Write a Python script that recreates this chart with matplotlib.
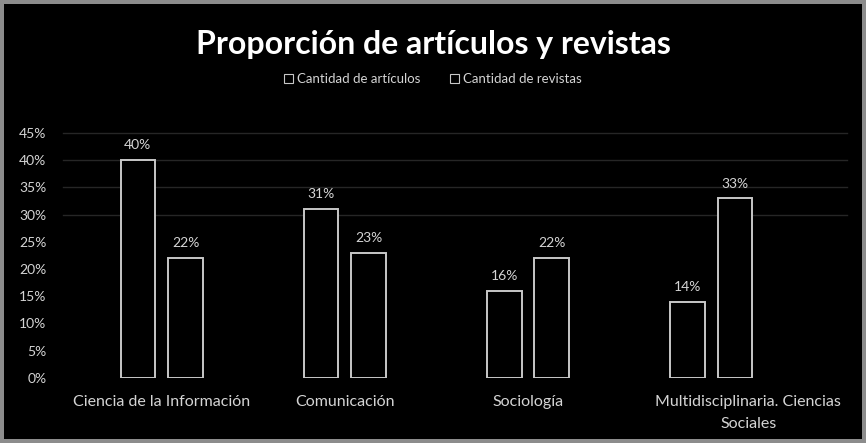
import matplotlib.pyplot as plt
import matplotlib.transforms as mtransforms
import numpy as np
from matplotlib.patches import Patch, Rectangle

categories = ["Ciencia de la Información", "Comunicación", "Sociología",
              "Multidisciplinaria. Ciencias\nSociales"]
articulos = [40, 31, 16, 14]
revistas = [22, 23, 22, 33]
series_names = ["Cantidad de artículos", "Cantidad de revistas"]
yticks = [0, 5, 10, 15, 20, 25, 30, 35, 40, 45]

plt.rcParams["font.family"] = ["Lato", "DejaVu Sans"]
txt = "#d4d4d4"
edge = "#c8c8c8"

fig = plt.figure(figsize=(8.66, 4.43), dpi=100)
fig.patch.set_facecolor("#8c8c8c")
# black panel inside the gray frame
fig.add_artist(Rectangle((0.005, 0.01), 0.99, 0.98, transform=fig.transFigure,
                         facecolor="black", edgecolor="none", zorder=0))

ax = fig.add_axes([0.081, 0.147, 0.846, 0.553])
ax.set_facecolor("black")

x = np.arange(len(categories))
w = 0.19
off = 0.13
b1 = ax.bar(x - off, articulos, w, facecolor="black", edgecolor=edge, linewidth=1.4)
b2 = ax.bar(x + off, revistas, w, facecolor="black", edgecolor=edge, linewidth=1.4)

for bars, vals in [(b1, articulos), (b2, revistas)]:
    for b, v in zip(bars, vals):
        ax.text(b.get_x() + b.get_width() / 2, v + 1.6, f"{v}%", ha="center",
                va="bottom", color=txt, fontsize=10)

ax.set_ylim(0, 45)
ax.set_xlim(-0.5, 3.5)
ax.set_yticks(yticks)
ax.set_yticklabels([f"{t}%" for t in yticks])
ax.set_xticks(x)
ax.set_xticklabels(categories, linespacing=1.8)
ax.tick_params(axis="y", length=0, colors=txt, labelsize=10, pad=17)
ax.tick_params(axis="x", length=0, colors=txt, labelsize=11.5, pad=12)
# last label sits a bit to the right, as in the original
lbl = ax.get_xticklabels()[-1]
lbl.set_transform(lbl.get_transform() +
                  mtransforms.ScaledTranslation(0.37, 0, fig.dpi_scale_trans))
for s in ax.spines.values():
    s.set_visible(False)
for t in [30, 35, 40, 45]:
    ax.axhline(t, xmin=-0.01, xmax=1.06, color="#262626", linewidth=1, zorder=0,
               clip_on=False)

fig.text(0.5, 0.9, "Proporción de artículos y revistas", ha="center", va="center",
         color="white", fontsize=23, fontweight="bold")

handles = [Patch(facecolor="black", edgecolor=edge, linewidth=0.8) for _ in series_names]
leg = fig.legend(handles, series_names, loc="center", bbox_to_anchor=(0.5, 0.822),
                 ncol=2, frameon=False, fontsize=9.5, handlelength=0.7, handleheight=0.7,
                 handletextpad=0.3, columnspacing=2.2)
for t in leg.get_texts():
    t.set_color(txt)

fig.savefig("out.png", dpi=100, facecolor=fig.get_facecolor())
